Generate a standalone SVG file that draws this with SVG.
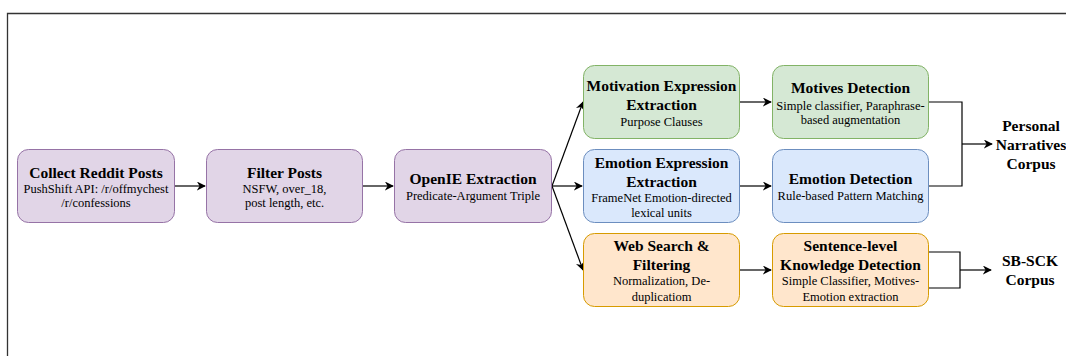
<svg xmlns="http://www.w3.org/2000/svg" width="1066" height="356" viewBox="0 0 1066 356">
<style>
  text{font-family:'Liberation Serif', serif;fill:#000;text-anchor:middle}
  .t{font-weight:bold;font-size:15.5px}
  .s{font-size:12.5px}
  .pu{fill:#e1d5e7;stroke:#9673a6;stroke-width:1}
  .gr{fill:#d5e8d4;stroke:#82b366;stroke-width:1}
  .bl{fill:#dae8fc;stroke:#6c8ebf;stroke-width:1}
  .or{fill:#ffe6cc;stroke:#d79b00;stroke-width:1}
  .c{fill:none;stroke:#000;stroke-width:1.2}
</style>
<defs>
  <marker id="ah" viewBox="0 0 10 10" refX="9" refY="5" markerWidth="9" markerHeight="9" markerUnits="userSpaceOnUse" orient="auto">
    <path d="M0,0 L10,5 L0,10 L3,5 Z" fill="#000"/>
  </marker>
</defs>
<rect width="1066" height="356" fill="#fff"/>
<path d="M1066,13.5 H7.5 V356" fill="none" stroke="#333" stroke-width="1.3"/>

<g id="connectors">
  <path class="c" d="M175,186 H205" marker-end="url(#ah)"/>
  <path class="c" d="M363,186 H393" marker-end="url(#ah)"/>
  <path class="c" d="M552,186 L583,102" marker-end="url(#ah)"/>
  <path class="c" d="M552,186 H582" marker-end="url(#ah)"/>
  <path class="c" d="M552,186 L583,270" marker-end="url(#ah)"/>
  <path class="c" d="M740,102 H771" marker-end="url(#ah)"/>
  <path class="c" d="M740,186 H771" marker-end="url(#ah)"/>
  <path class="c" d="M740,270 H771" marker-end="url(#ah)"/>
  <path class="c" d="M929,102 H962 V186 H929"/>
  <path class="c" d="M962,144 H992" marker-end="url(#ah)"/>
  <path class="c" d="M929,252 H960 V288 H929"/>
  <path class="c" d="M960,270 H991" marker-end="url(#ah)"/>
</g>

<g id="collect">
  <rect class="pu" x="17.5" y="149.5" width="157" height="73" rx="11"/>
  <text class="t" x="96" y="177.5">Collect Reddit Posts</text>
  <text class="s" x="96" y="193">PushShift API: /r/offmychest</text>
  <text class="s" x="96" y="207">/r/confessions</text>
</g>
<g id="filter">
  <rect class="pu" x="206.5" y="149.5" width="156" height="73" rx="11"/>
  <text class="t" x="284.5" y="177.5">Filter Posts</text>
  <text class="s" x="284.5" y="193">NSFW, over_18,</text>
  <text class="s" x="284.5" y="207">post length, etc.</text>
</g>
<g id="openie">
  <rect class="pu" x="394.5" y="149.5" width="157" height="73" rx="11"/>
  <text class="t" x="473" y="184">OpenIE Extraction</text>
  <text class="s" x="473" y="200">Predicate-Argument Triple</text>
</g>
<g id="motivation">
  <rect class="gr" x="583.5" y="65.5" width="156" height="73" rx="11"/>
  <text class="t" x="661.5" y="91">Motivation Expression</text>
  <text class="t" x="661.5" y="110">Extraction</text>
  <text class="s" x="661.5" y="126">Purpose Clauses</text>
</g>
<g id="emotion-expr">
  <rect class="bl" x="583.5" y="149.5" width="156" height="73" rx="11"/>
  <text class="t" x="661.5" y="168">Emotion Expression</text>
  <text class="t" x="661.5" y="187">Extraction</text>
  <text class="s" x="661.5" y="202">FrameNet Emotion-directed</text>
  <text class="s" x="661.5" y="217">lexical units</text>
</g>
<g id="websearch">
  <rect class="or" x="583.5" y="233.5" width="156" height="73" rx="11"/>
  <text class="t" x="661.5" y="251">Web Search &amp;</text>
  <text class="t" x="661.5" y="270">Filtering</text>
  <text class="s" x="661.5" y="285">Normalization, De-</text>
  <text class="s" x="661.5" y="301">duplicatiom</text>
</g>
<g id="motives">
  <rect class="gr" x="772.5" y="65.5" width="156" height="73" rx="11"/>
  <text class="t" x="850.5" y="93">Motives Detection</text>
  <text class="s" x="850.5" y="110">Simple classifier, Paraphrase-</text>
  <text class="s" x="850.5" y="124">based augmentation</text>
</g>
<g id="emotion-det">
  <rect class="bl" x="772.5" y="149.5" width="156" height="73" rx="11"/>
  <text class="t" x="850.5" y="184">Emotion Detection</text>
  <text class="s" x="850.5" y="200">Rule-based Pattern Matching</text>
</g>
<g id="sentence">
  <rect class="or" x="772.5" y="233.5" width="156" height="73" rx="11"/>
  <text class="t" x="850.5" y="251">Sentence-level</text>
  <text class="t" x="850.5" y="270">Knowledge Detection</text>
  <text class="s" x="850.5" y="285">Simple Classifier, Motives-</text>
  <text class="s" x="850.5" y="301">Emotion extraction</text>
</g>
<g id="pnc">
  <text class="t" x="1031" y="131">Personal</text>
  <text class="t" x="1031" y="150">Narratives</text>
  <text class="t" x="1031" y="169">Corpus</text>
</g>
<g id="sbsck">
  <text class="t" x="1030" y="266">SB-SCK</text>
  <text class="t" x="1030" y="285">Corpus</text>
</g>
</svg>
